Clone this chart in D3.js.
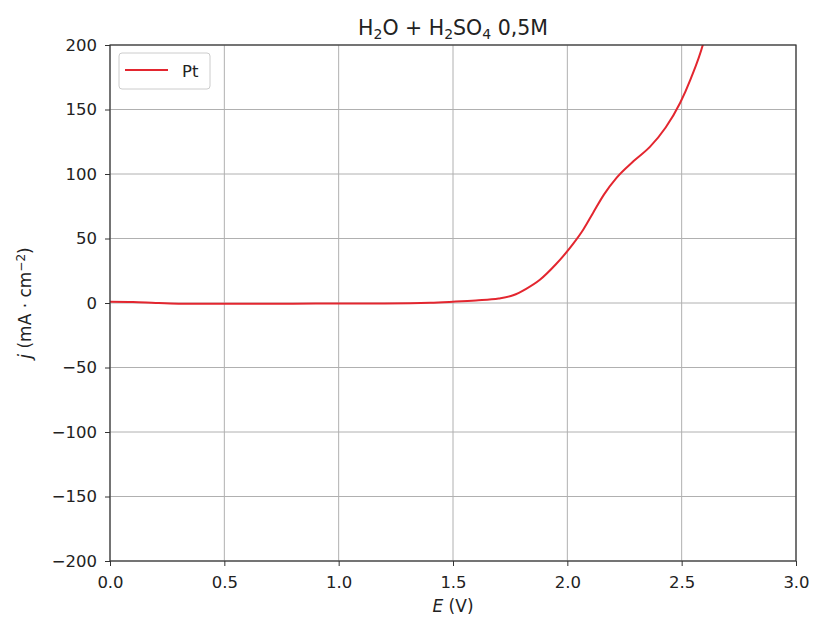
<!DOCTYPE html>
<html><head><meta charset="utf-8">
<script src="https://cdn.jsdelivr.net/npm/d3@7"></script>
<style>body{margin:0;background:#fff}text{font-family:"DejaVu Sans",sans-serif}</style>
</head><body><svg id="c" width="813" height="619"></svg>
<script>
const E = [0.0, 0.1, 0.2, 0.3, 0.5, 0.8, 1.0, 1.2, 1.4, 1.5, 1.6, 1.7, 1.763, 1.82, 1.88, 1.95, 2.026, 2.07, 2.113, 2.16, 2.215, 2.29, 2.361, 2.43, 2.493, 2.54, 2.594, 2.61];
const J = [1.0, 0.8, 0.0, -0.5, -0.6, -0.5, -0.4, -0.3, 0.2, 1.0, 2.0, 3.5, 6, 11, 18, 30, 46, 57, 70, 84, 97, 110, 121, 136, 155, 174, 201, 212];
const xTicks = [0.0, 0.5, 1.0, 1.5, 2.0, 2.5, 3.0];
const yTicks = [-200, -150, -100, -50, 0, 50, 100, 150, 200];
const seriesName = "Pt";

const svg = d3.select("#c");
const L = 110, R = 796, T = 45, B = 561;
const x = d3.scaleLinear().domain([0, 3]).range([L, R]);
const y = d3.scaleLinear().domain([-200, 200]).range([B, T]);
const RED = "#e3262f";

// grid
svg.append("g").selectAll("line").data(xTicks).join("line")
  .attr("x1", d => x(d)).attr("x2", d => x(d)).attr("y1", T).attr("y2", B)
  .attr("stroke", "#b0b0b0").attr("stroke-width", 1);
svg.append("g").selectAll("line").data(yTicks).join("line")
  .attr("y1", d => y(d)).attr("y2", d => y(d)).attr("x1", L).attr("x2", R)
  .attr("stroke", "#b0b0b0").attr("stroke-width", 1);

// data line
const defs = svg.append("defs");
defs.append("clipPath").attr("id", "clip").append("rect").attr("x", L).attr("y", T).attr("width", R - L).attr("height", B - T);
svg.append("path").datum(E.map((e, i) => [e, J[i]]))
  .attr("clip-path", "url(#clip)")
  .attr("fill", "none").attr("stroke", RED).attr("stroke-width", 2)
  .attr("d", d3.line().x(d => x(d[0])).y(d => y(d[1])).curve(d3.curveMonotoneX));

// axes
const xa = svg.append("g").attr("transform", `translate(0,${B})`)
  .call(d3.axisBottom(x).tickValues(xTicks).tickFormat(d3.format(".1f")).tickSize(5).tickPadding(6).tickSizeOuter(0));
const ya = svg.append("g").attr("transform", `translate(${L},0)`)
  .call(d3.axisLeft(y).tickValues(yTicks).tickFormat(d => d < 0 ? "\u2212" + Math.abs(d) : d).tickSize(5).tickPadding(8).tickSizeOuter(0));
[xa, ya].forEach(a => {
  a.select(".domain").remove();
  a.selectAll("text").attr("font-size", 16.5).attr("fill", "#222").attr("font-family", "DejaVu Sans");
  a.selectAll("line").attr("stroke", "#333");
});
xa.selectAll("text").attr("dy", "0.95em");

// frame
svg.append("rect").attr("x", L).attr("y", T).attr("width", R - L).attr("height", B - T)
  .attr("fill", "none").attr("stroke", "#333").attr("stroke-width", 1.2);

// title
const t = svg.append("text").attr("x", (L + R) / 2).attr("y", 35).attr("text-anchor", "middle").attr("font-size", 20.5).attr("fill", "#222");
t.append("tspan").text("H");
t.append("tspan").text("2").attr("font-size", 14).attr("dy", 4);
t.append("tspan").text("O + H").attr("dy", -4);
t.append("tspan").text("2").attr("font-size", 14).attr("dy", 4);
t.append("tspan").text("SO").attr("dy", -4);
t.append("tspan").text("4").attr("font-size", 14).attr("dy", 4);
t.append("tspan").text(" 0,5M").attr("dy", -4);

// x label
const xl = svg.append("text").attr("x", (L + R) / 2).attr("y", 612).attr("text-anchor", "middle").attr("font-size", 17).attr("fill", "#222");
xl.append("tspan").text("E").attr("font-style", "italic");
xl.append("tspan").text(" (V)");

// y label
const yl = svg.append("text").attr("transform", `translate(31,${(T + B) / 2}) rotate(-90)`).attr("text-anchor", "middle").attr("font-size", 17).attr("fill", "#222");
yl.append("tspan").text("j").attr("font-style", "italic");
yl.append("tspan").text(" (mA \u00b7 cm");
yl.append("tspan").text("\u22122").attr("font-size", 12).attr("dy", -6);
yl.append("tspan").text(")").attr("dy", 6);

// legend
const lg = svg.append("g");
lg.append("rect").attr("x", 119).attr("y", 53).attr("width", 91).attr("height", 36).attr("rx", 3)
  .attr("fill", "#fff").attr("fill-opacity", 0.8).attr("stroke", "#ccc");
lg.append("line").attr("x1", 125).attr("x2", 168).attr("y1", 70).attr("y2", 70).attr("stroke", RED).attr("stroke-width", 2);
lg.append("text").attr("x", 182).attr("y", 77).attr("font-size", 16.5).attr("fill", "#222").text(seriesName);
</script></body></html>
